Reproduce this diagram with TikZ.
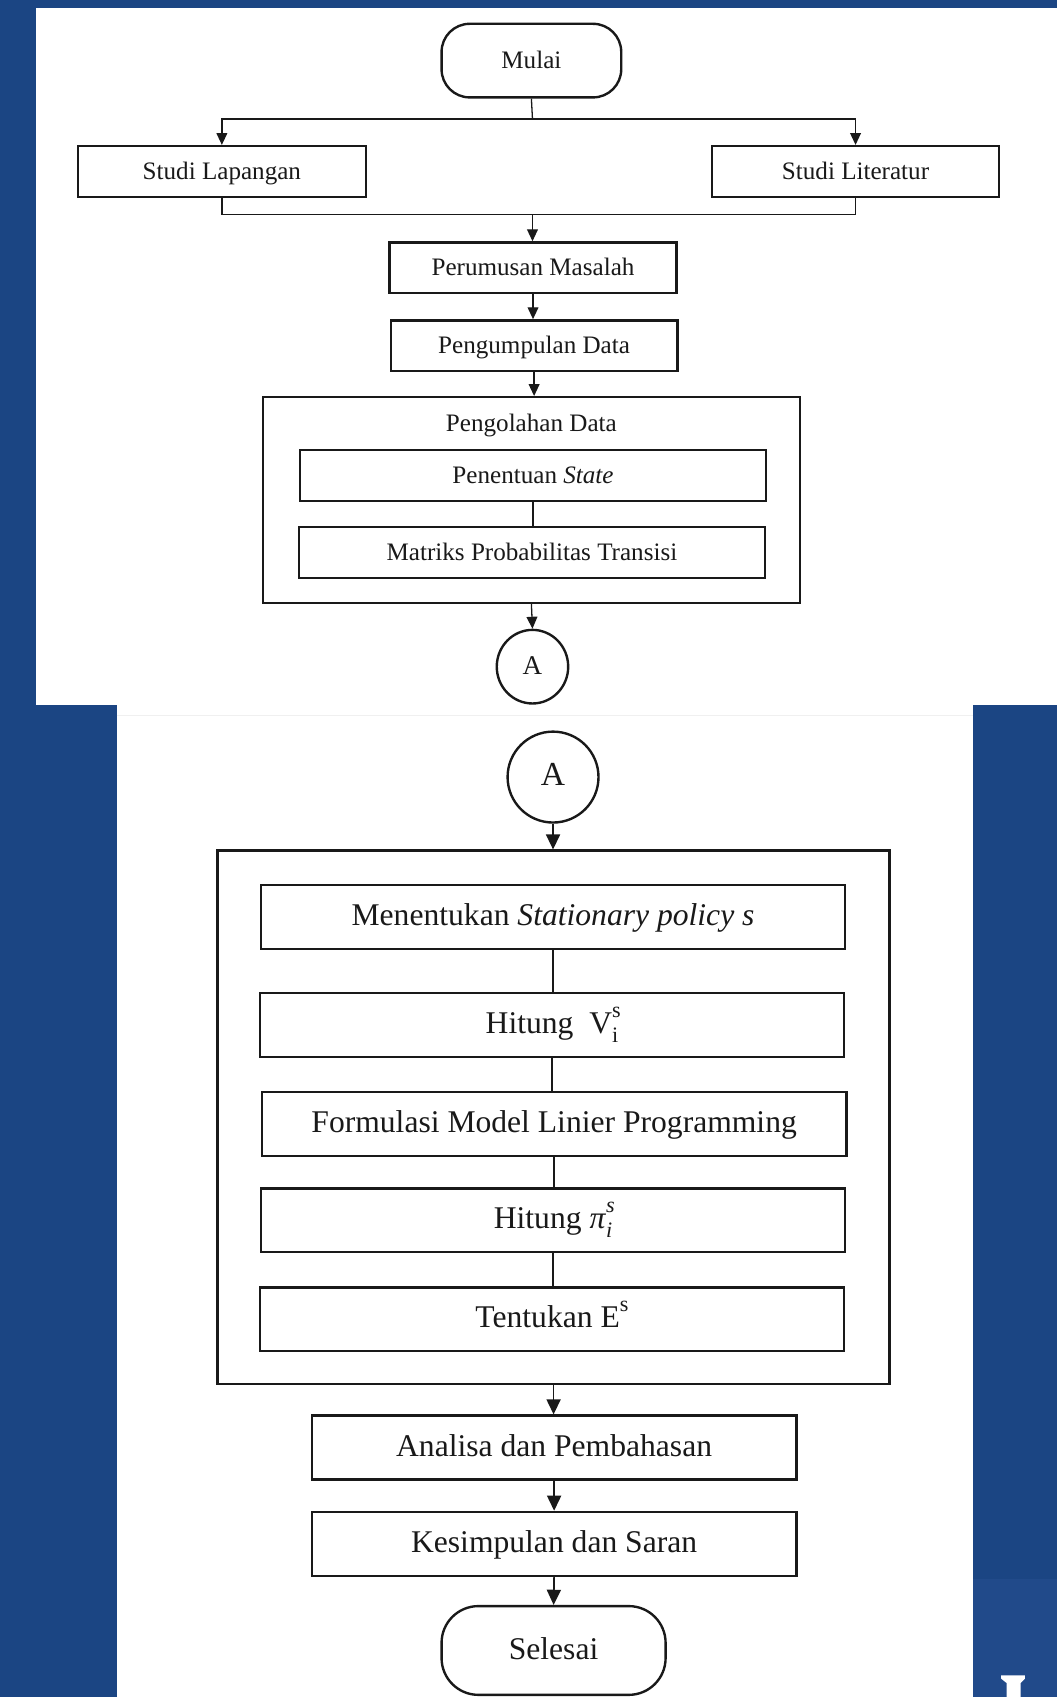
\documentclass[tikz,border=0pt]{standalone}
\usepackage{fontspec}
\setmainfont{Liberation Serif}
\usetikzlibrary{arrows.meta,shapes.geometric}
\definecolor{bg}{RGB}{27,69,131}
\definecolor{bgtwo}{RGB}{33,74,138}
\definecolor{ink}{RGB}{25,25,25}
\newcommand{\mysupsub}[2]{\rlap{\raisebox{0.52em}{\fontsize{10.2}{12}\selectfont #1}}\raisebox{-0.28em}{\fontsize{10.2}{12}\selectfont #2}}
\begin{document}
\begin{tikzpicture}[x=0.5pt,y=-0.5pt,
  box/.style={draw=ink, line width=1.1pt, rectangle, inner sep=0pt, text=ink},
  tbox/.style={box, font=\fontsize{11.6}{13}\selectfont, text height=0.74em, text depth=0pt},
  bbox/.style={box, font=\fontsize{14.6}{17}\selectfont, text height=0.8em, text depth=0pt},
  tsize/.style={minimum width=132.5pt, minimum height=23.5pt},
  isize/.style={minimum width=215.5pt, minimum height=23.5pt},
  psize/.style={minimum width=270pt, minimum height=29.5pt},
  asize/.style={minimum width=224pt, minimum height=29.5pt},
  conn/.style={draw=ink, line width=0.6pt},
  arr/.style={conn, -{Triangle[length=5.5pt,width=5pt]}},
  barr/.style={conn, line width=0.8pt, -{Triangle[length=7pt,width=6.5pt]}},
  bconn/.style={conn, line width=0.8pt},
]
\useasboundingbox (0,0) rectangle (977,1568);
% background panels
\fill[bg] (0,0) rectangle (977,1568);
\fill[bgtwo] (899,1459) rectangle (977,1568);
\fill[white] (33,7) rectangle (977,651);
\fill[white] (108,651) rectangle (899,1568);
\draw[gray!12, line width=0.6pt] (108,661) -- (899,661);
\fill[white] (925,1548) -- (947,1548) -- (947,1551) -- (943,1555) -- (943,1568)
  -- (930,1568) -- (930,1555) -- (925,1551) -- cycle;

% ---------- top flowchart ----------
\node[tbox, rounded corners=13pt, minimum width=83pt, minimum height=34pt] (mulai) at (491,56) {Mulai};
\node[tbox, tsize, minimum width=133pt] (slap) at (205,158.5) {Studi Lapangan};
\node[tbox, tsize] (slit) at (790.5,158.5) {Studi Literatur};
\node[tbox, tsize] (perum) at (492.5,247.5) {Perumusan Masalah};
\node[tbox, tsize] (pengum) at (493.5,319.5) {Pengumpulan Data};
\node[box, minimum width=248pt, minimum height=95pt] (olah) at (491,462) {};
\node[font=\fontsize{11.6}{13}\selectfont, text=ink, inner sep=0pt, text height=0.74em, text depth=0pt] (olaht) at (491,391) {Pengolahan Data};
\node[tbox, isize] (state) at (492.5,439.5) {Penentuan \textit{State}};
\node[tbox, isize] (matriks) at (491.5,510.5) {Matriks Probabilitas Transisi};
\node[tbox, ellipse, minimum width=33pt, minimum height=34pt, font=\fontsize{12.5}{14}\selectfont] (aone) at (492,616) {A};

\coordinate (jone) at (492,110);
\draw[conn] (mulai.south) -- (jone);
\draw[arr] (jone) -| (slap.north);
\draw[arr] (jone) -| (slit.north);
\coordinate (jtwo) at (492,198);
\draw[conn] (slap.south) |- (jtwo);
\draw[conn] (slit.south) |- (jtwo);
\draw[arr] (jtwo) -- (jtwo |- perum.north);
\draw[arr] (perum.south) -- (perum.south |- pengum.north);
\draw[arr] (pengum.south) -- (pengum.south |- olah.north);
\draw[conn] (state.south) -- (state.south |- matriks.north);
\draw[arr] (olah.south) -- (aone.north);

% ---------- bottom flowchart ----------
\node[bbox, circle, minimum size=42pt, font=\fontsize{15.5}{18}\selectfont] (atwo) at (511,718) {A};
\node[box, minimum width=310.5pt, minimum height=246.5pt] (proc) at (511.5,1032.5) {};
\node[bbox, psize] (stat) at (511,847.5) {Menentukan \textit{Stationary policy s}};
\node[bbox, psize] (hv) at (510,947) {Hitung\ \ V\mysupsub{s}{i}};
\node[bbox, psize] (form) at (512,1038.5) {Formulasi Model Linier Programming};
\node[bbox, psize] (hpi) at (511,1127.5) {Hitung \textit{π}\mysupsub{\itshape s}{\itshape i}};
\node[bbox, psize] (tent) at (510,1219) {Tentukan E\raisebox{0.52em}{\fontsize{10.2}{12}\selectfont s}};
\node[bbox, asize] (anal) at (512,1337.5) {Analisa dan Pembahasan};
\node[bbox, asize] (kes) at (512,1426.5) {Kesimpulan dan Saran};
\node[bbox, rounded corners=17pt, minimum width=103.5pt, minimum height=41pt] (sel) at (511.5,1525) {Selesai};

\draw[barr] (atwo.south) -- (atwo.south |- proc.north);
\draw[bconn] (stat.south) -- (stat.south |- hv.north);
\draw[bconn] (hv.south) -- (hv.south |- form.north);
\draw[bconn] (form.south) -- (form.south |- hpi.north);
\draw[bconn] (hpi.south) -- (hpi.south |- tent.north);
\draw[barr] (proc.south) -- (proc.south |- anal.north);
\draw[barr] (anal.south) -- (kes.north);
\draw[barr] (kes.south) -- (sel.north);
\end{tikzpicture}
\end{document}
